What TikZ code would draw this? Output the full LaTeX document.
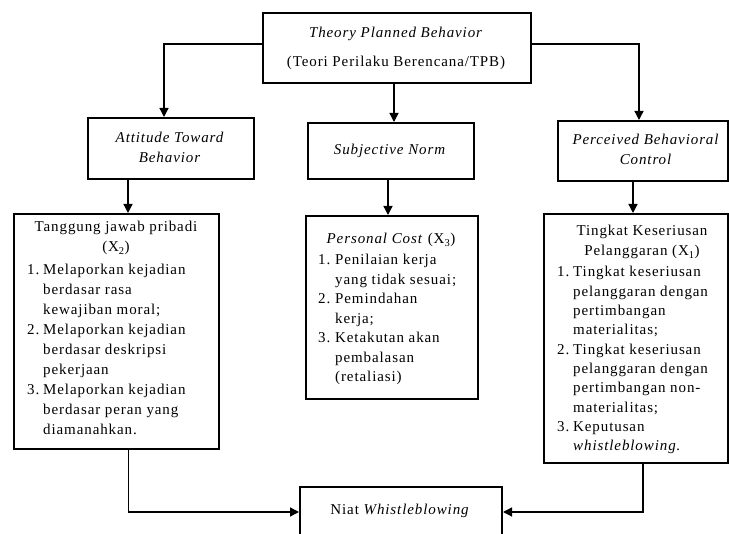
\documentclass[tikz,border=0pt]{standalone}
\usepackage{fontspec}
\setmainfont{Liberation Serif}[LetterSpace=6]
\usetikzlibrary{arrows.meta}
\begin{document}
\begin{tikzpicture}[x=1pt,y=-1pt,
  box/.style={draw, line width=2pt, inner sep=0pt, anchor=north west},
  txt/.style={inner sep=0pt, anchor=base, font=\fontsize{15}{20}\selectfont},
  lst/.style={inner sep=0pt, anchor=base west},
  arr/.style={line width=1.3pt, -{Triangle[length=9pt,width=9pt]}}]
\useasboundingbox (0,0) rectangle (729,534);
% boxes
\node[box, minimum width=268pt, minimum height=70pt] (tpb) at (262,12) {};
\node[box, minimum width=166pt, minimum height=61pt] (att) at (87,117) {};
\node[box, minimum width=166pt, minimum height=56pt] (subj) at (307,122) {};
\node[box, minimum width=170pt, minimum height=60pt] (perc) at (557,120) {};
\node[box, minimum width=205pt, minimum height=235pt] (lb) at (13,213) {};
\node[box, minimum width=172pt, minimum height=183pt] (mb) at (305,215) {};
\node[box, minimum width=184pt, minimum height=249pt] (rb) at (543,213) {};
\node[box, minimum width=202pt, minimum height=50pt] (niat) at (299,486) {};
% texts
\node[txt] (tpbt) at (396,38) {\begin{tabular}[t]{@{}c@{}}\textit{Theory Planned Behavior}\\[9pt](Teori Perilaku Berencana/TPB)\end{tabular}};
\node[txt] (attt) at (170,143) {\begin{tabular}[t]{@{}c@{}}\textit{Attitude Toward}\\\textit{Behavior}\end{tabular}};
\node[txt] (subjt) at (390,155) {\textit{Subjective Norm}};
\node[txt] (perct) at (646,145) {\begin{tabular}[t]{@{}c@{}}\textit{Perceived Behavioral}\\\textit{Control}\end{tabular}};
% left box
\node[txt] (lbt) at (116,232) {\begin{tabular}[t]{@{}c@{}}Tanggung jawab pribadi\\(X\textsubscript{2})\end{tabular}};
\node[lst, font=\fontsize{15}{20}\selectfont] (lbl) at (27,275) {\begin{tabular}[t]{@{}l@{}}
\makebox[16pt][l]{1.}Melaporkan kejadian\\
\hspace*{16pt}berdasar rasa\\
\hspace*{16pt}kewajiban moral;\\
\makebox[16pt][l]{2.}Melaporkan kejadian\\
\hspace*{16pt}berdasar deskripsi\\
\hspace*{16pt}pekerjaan\\
\makebox[16pt][l]{3.}Melaporkan kejadian\\
\hspace*{16pt}berdasar peran yang\\
\hspace*{16pt}diamanahkan.
\end{tabular}};
% middle box
\node[txt] (mbt) at (391,244) {\textit{Personal Cost} (X\textsubscript{3})};
\node[lst, font=\fontsize{15}{19.5}\selectfont] (mbl) at (318,265) {\begin{tabular}[t]{@{}l@{}}
\makebox[17pt][l]{1.}Penilaian kerja\\
\hspace*{17pt}yang tidak sesuai;\\
\makebox[17pt][l]{2.}Pemindahan\\
\hspace*{17pt}kerja;\\
\makebox[17pt][l]{3.}Ketakutan akan\\
\hspace*{17pt}pembalasan\\
\hspace*{17pt}(retaliasi)
\end{tabular}};
% right box
\node[txt] (rbt) at (642,236) {\begin{tabular}[t]{@{}c@{}}Tingkat Keseriusan\\Pelanggaran (X\textsubscript{1})\end{tabular}};
\node[lst, font=\fontsize{15}{19.3}\selectfont] (rbl) at (557,277) {\begin{tabular}[t]{@{}l@{}}
\makebox[16pt][l]{1.}Tingkat keseriusan\\
\hspace*{16pt}pelanggaran dengan\\
\hspace*{16pt}pertimbangan\\
\hspace*{16pt}materialitas;\\
\makebox[16pt][l]{2.}Tingkat keseriusan\\
\hspace*{16pt}pelanggaran dengan\\
\hspace*{16pt}pertimbangan non-\\
\hspace*{16pt}materialitas;\\
\makebox[16pt][l]{3.}Keputusan\\
\hspace*{16pt}\textit{whistleblowing.}
\end{tabular}};
\node[txt] (niatt) at (400,515) {Niat \textit{Whistleblowing}};
% connectors
\draw[arr] ([yshift=4pt]tpb.west) -| ([xshift=-7pt]att.north);
\draw[arr] ([yshift=4pt]tpb.east) -| ([xshift=-4pt]perc.north);
\draw[arr] ([xshift=-3pt]tpb.south) -- ([xshift=-3pt]tpb.south |- subj.north);
\draw[arr] ([xshift=-43pt]att.south) -- ([xshift=-43pt]att.south |- lb.north);
\draw[arr] ([xshift=-3pt]subj.south) -- ([xshift=-3pt]subj.south |- mb.north);
\draw[arr] ([xshift=-10pt]perc.south) -- ([xshift=-10pt]perc.south |- rb.north);
\draw[arr] ([xshift=12pt]lb.south) |- (niat.west);
\draw[arr] ([xshift=7pt]rb.south) |- (niat.east);
\end{tikzpicture}
\end{document}
